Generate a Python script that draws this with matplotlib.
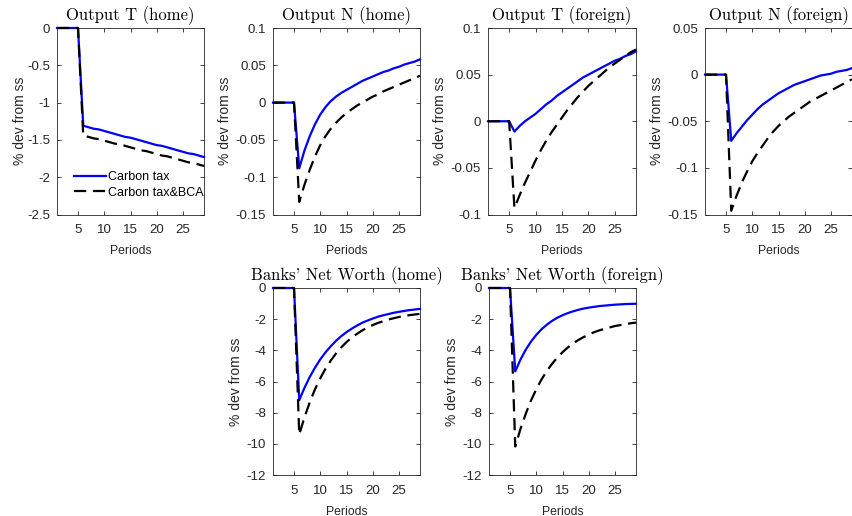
import matplotlib
matplotlib.use("Agg")
import matplotlib.pyplot as plt
import numpy as np

plt.rcParams['font.family'] = ['Liberation Sans', 'DejaVu Sans']
plt.rcParams['axes.unicode_minus'] = False

periods = list(range(1, 30))

# Output T (home)
outT_home_tax = [0, 0, 0, 0, 0, -1.31, -1.33, -1.35, -1.36, -1.38, -1.40, -1.42, -1.44, -1.46, -1.47,
                 -1.49, -1.51, -1.53, -1.55, -1.57, -1.58, -1.60, -1.62, -1.64, -1.66, -1.68, -1.69, -1.71, -1.73]
outT_home_bca = [0, 0, 0, 0, 0, -1.44, -1.46, -1.48, -1.49, -1.51, -1.53, -1.55, -1.56, -1.58, -1.60,
                 -1.62, -1.64, -1.65, -1.67, -1.69, -1.71, -1.72, -1.74, -1.76, -1.78, -1.80, -1.81, -1.83, -1.85]
# Output N (home)
outN_home_tax = [0, 0, 0, 0, 0, -0.088, -0.064, -0.045, -0.029, -0.016, -0.006, 0.002, 0.008, 0.013, 0.017,
                 0.021, 0.025, 0.029, 0.032, 0.035, 0.038, 0.041, 0.043, 0.046, 0.048, 0.051, 0.053, 0.055, 0.058]
outN_home_bca = [0, 0, 0, 0, 0, -0.133, -0.110, -0.090, -0.072, -0.057, -0.045, -0.035, -0.027, -0.020, -0.014,
                 -0.009, -0.004, 0.000, 0.004, 0.008, 0.011, 0.015, 0.018, 0.021, 0.024, 0.027, 0.030, 0.033, 0.036]
# Output T (foreign)
outT_for_tax = [0, 0, 0, 0, 0, -0.011, -0.005, 0.000, 0.004, 0.008, 0.013, 0.018, 0.022, 0.027, 0.031,
                0.035, 0.039, 0.043, 0.047, 0.050, 0.053, 0.056, 0.059, 0.062, 0.065, 0.067, 0.070, 0.072, 0.075]
outT_for_bca = [0, 0, 0, 0, 0, -0.093, -0.079, -0.066, -0.054, -0.042, -0.031, -0.021, -0.012, -0.004, 0.004,
                0.012, 0.019, 0.026, 0.032, 0.038, 0.043, 0.048, 0.053, 0.058, 0.062, 0.066, 0.070, 0.074, 0.077]
# Output N (foreign)
outN_for_tax = [0, 0, 0, 0, 0, -0.071, -0.063, -0.056, -0.049, -0.043, -0.037, -0.032, -0.028, -0.024, -0.020,
                -0.017, -0.014, -0.011, -0.009, -0.007, -0.005, -0.003, -0.001, 0.000, 0.001, 0.003, 0.004, 0.005, 0.007]
outN_for_bca = [0, 0, 0, 0, 0, -0.146, -0.130, -0.116, -0.104, -0.093, -0.084, -0.076, -0.068, -0.061, -0.055,
                -0.050, -0.045, -0.041, -0.037, -0.033, -0.029, -0.026, -0.023, -0.020, -0.017, -0.014, -0.011, -0.008, -0.005]
# Banks' Net Worth (home)
nw_home_tax = [0, 0, 0, 0, 0, -7.20, -6.40, -5.71, -5.11, -4.58, -4.13, -3.74, -3.39, -3.09, -2.83,
               -2.61, -2.41, -2.23, -2.09, -1.96, -1.84, -1.75, -1.67, -1.59, -1.53, -1.47, -1.42, -1.38, -1.34]
nw_home_bca = [0, 0, 0, 0, 0, -9.40, -8.29, -7.33, -6.50, -5.79, -5.18, -4.66, -4.20, -3.81, -3.47,
               -3.18, -2.94, -2.72, -2.54, -2.38, -2.24, -2.13, -2.02, -1.94, -1.86, -1.80, -1.74, -1.70, -1.66]
# Banks' Net Worth (foreign)
nw_for_tax = [0, 0, 0, 0, 0, -5.35, -4.59, -3.96, -3.44, -3.01, -2.65, -2.36, -2.11, -1.91, -1.75,
              -1.61, -1.50, -1.40, -1.32, -1.26, -1.21, -1.16, -1.13, -1.10, -1.07, -1.05, -1.03, -1.02, -1.01]
nw_for_bca = [0, 0, 0, 0, 0, -10.17, -9.04, -8.07, -7.22, -6.50, -5.87, -5.33, -4.87, -4.47, -4.12,
              -3.82, -3.56, -3.34, -3.15, -2.99, -2.84, -2.72, -2.62, -2.53, -2.44, -2.38, -2.32, -2.26, -2.22]

titles = ["Output T (home)", "Output N (home)", "Output T (foreign)", "Output N (foreign)",
          "Banks' Net Worth (home)", "Banks' Net Worth (foreign)"]
series = [(outT_home_tax, outT_home_bca), (outN_home_tax, outN_home_bca),
          (outT_for_tax, outT_for_bca), (outN_for_tax, outN_for_bca),
          (nw_home_tax, nw_home_bca), (nw_for_tax, nw_for_bca)]
ylims = [(-2.5, 0), (-0.15, 0.1), (-0.1, 0.1), (-0.15, 0.05), (-12, 0), (-12, 0)]
yticks = [[-2.5, -2, -1.5, -1, -0.5, 0],
          [-0.15, -0.1, -0.05, 0, 0.05, 0.1],
          [-0.1, -0.05, 0, 0.05, 0.1],
          [-0.15, -0.1, -0.05, 0, 0.05],
          [-12, -10, -8, -6, -4, -2, 0],
          [-12, -10, -8, -6, -4, -2, 0]]
xticks = [5, 10, 15, 20, 25]
legend_labels = ["Carbon tax", "Carbon tax&BCA"]

W, H = 852, 516
fig = plt.figure(figsize=(W / 100, H / 100), dpi=100)

# pixel boxes: left, top, right, bottom
boxes = [(57, 28, 204, 214.5), (273, 28, 420, 214.5), (488, 28, 636, 214.5), (705, 28, 852, 214.5),
         (273, 288, 420, 475), (489, 288, 636, 475)]
ylabelpads = [-0.3, 3, 3, 3, 3, 3]

gray = (0.15, 0.15, 0.15)

for i, (l, t, r, b) in enumerate(boxes):
    ax = fig.add_axes([l / W, 1 - b / H, (r - l) / W, (b - t) / H])
    tax, bca = series[i]
    ax.plot(periods, tax, color=(0, 0, 1), lw=1.6, label=legend_labels[0], clip_on=False, zorder=3)
    ax.plot(periods, bca, color='black', lw=1.6, dashes=(5.5, 3.0), label=legend_labels[1],
            clip_on=False, zorder=4)
    ax.set_xlim(1, 29)
    ax.set_ylim(*ylims[i])
    ax.set_xticks(xticks)
    ax.set_yticks(yticks[i])
    ax.set_yticklabels(['%g' % v for v in yticks[i]])
    ax.tick_params(direction='in', top=True, right=True, labelsize=9.5, colors=gray,
                   length=3, width=0.6)
    ax.tick_params(axis='x', pad=7)
    ax.tick_params(axis='y', pad=5)
    for sp in ax.spines.values():
        sp.set_color(gray)
        sp.set_linewidth(0.6)
    ax.set_xlabel("Periods", fontsize=8.8, color=gray, labelpad=6.5)
    ax.set_ylabel("% dev from ss", fontsize=10, color=gray, labelpad=ylabelpads[i])
    ax.set_title(titles[i], fontsize=12, family=['cmr10', 'DejaVu Serif'], pad=5.5, color='black')
    if i == 0:
        ax.legend(loc='lower left', bbox_to_anchor=(0.115, 0.085), frameon=False,
                  fontsize=9, handlelength=2.6, labelspacing=0.3, borderpad=0,
                  handletextpad=0.15, borderaxespad=0)

fig.savefig("out.png", dpi=100)
